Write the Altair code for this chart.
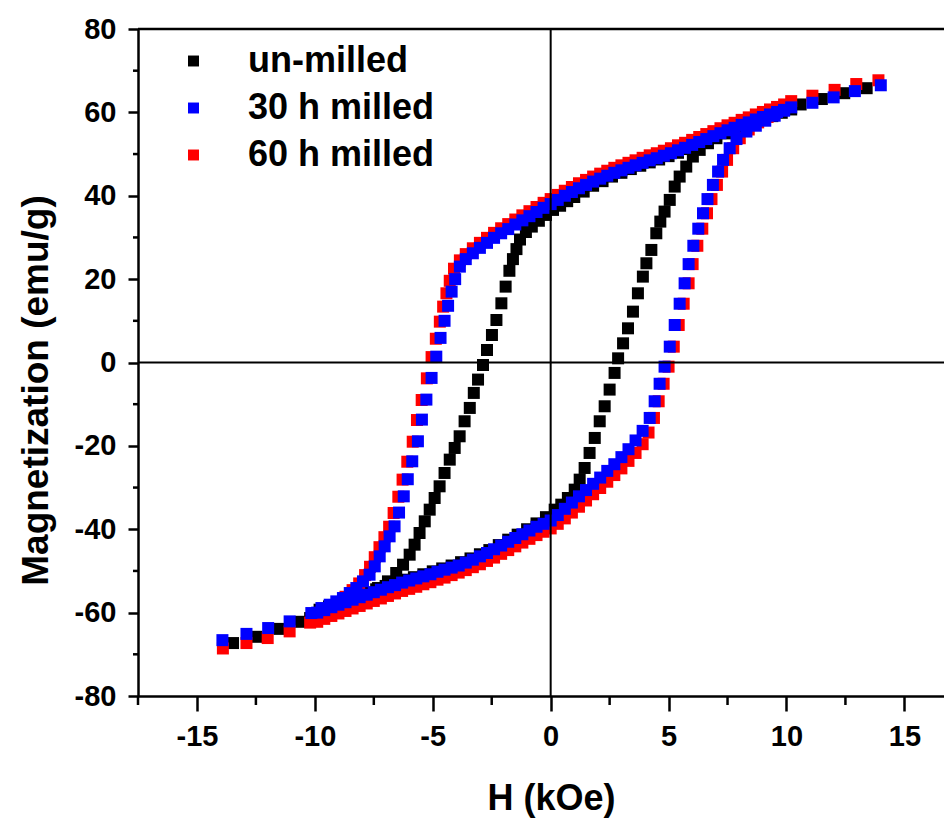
import altair as alt
import pandas as pd

SERIES = ["un-milled", "30 h milled", "60 h milled"]
COLORS = ["#000000", "#0000ff", "#ff0000"]
X_TICKS = [-15, -10, -5, 0, 5, 10, 15]
X_MINOR = [-17.5, -12.5, -7.5, -2.5, 2.5, 7.5, 12.5]
Y_TICKS = [-80, -60, -40, -20, 0, 20, 40, 60, 80]
Y_MINOR = [-70, -50, -30, -10, 10, 30, 50, 70]

# (H kOe, M emu/g)
BLACK_DOWN = [(13.4,65.8),(12.45,64.6),(11.5,63.2),(10.6,61.9),(10.2,60.7),(9.8,59.9),(9.4,59.1),(9.0,58.4),(8.6,57.6),(8.2,56.8),(7.8,55.9),(7.4,55.0),(7.0,54.0),(6.6,53.0),(6.2,52.1),(5.8,51.2),(5.4,50.3),(5.0,49.5),(4.6,48.7),(4.2,48.0),(3.8,47.2),(3.4,46.4),(3.0,45.5),(2.6,44.6),(2.2,43.5),(1.8,42.4),(1.4,41.0),(1.0,39.7),(0.7,38.7),(0.4,37.6),(0.1,36.6),(-0.2,35.4),(-0.5,34.0),(-0.8,32.6),(-1.05,31.3),(-1.3,29.5),(-1.45,27.2),(-1.6,24.8),(-1.75,22.0),(-1.91,18.2),(-2.09,14.2),(-2.3,10.2),(-2.49,6.6),(-2.7,3.0),(-2.87,-0.6),(-3.08,-4.1),(-3.26,-7.3),(-3.43,-10.9),(-3.65,-14.1),(-3.86,-17.7),(-4.07,-20.5),(-4.28,-23.3),(-4.5,-26.5),(-4.71,-29.7),(-4.92,-32.5),(-5.13,-35.3),(-5.34,-38.1),(-5.56,-40.9),(-5.77,-43.7),(-5.98,-46.1),(-6.26,-48.5),(-6.55,-50.5),(-6.9,-52.5),(-7.32,-54.1),(-7.75,-55.3),(-8.2,-56.4),(-8.7,-57.6),(-9.2,-58.8),(-9.7,-60.0),(-10.2,-61.3),(-10.6,-62.2),(-11.5,-63.9),(-12.48,-65.8),(-13.47,-67.3)]
BLACK_UP = [(-9.8,-59.3),(-9.4,-58.5),(-9.0,-57.6),(-8.6,-56.8),(-8.2,-56.0),(-7.8,-55.2),(-7.4,-54.4),(-7.0,-53.6),(-6.6,-52.9),(-6.2,-52.1),(-5.8,-51.5),(-5.4,-50.8),(-5.0,-50.1),(-4.6,-49.4),(-4.2,-48.7),(-3.8,-47.9),(-3.4,-47.0),(-3.0,-46.0),(-2.6,-45.0),(-2.2,-43.8),(-1.8,-42.5),(-1.4,-41.3),(-1.0,-40.0),(-0.6,-38.6),(-0.2,-37.1),(0.17,-35.3),(0.45,-34.1),(0.73,-32.5),(1.02,-30.5),(1.23,-28.1),(1.44,-25.3),(1.65,-21.7),(1.87,-18.1),(2.08,-14.1),(2.29,-10.5),(2.5,-6.5),(2.71,-2.5),(2.86,1.0),(3.07,4.6),(3.28,8.2),(3.49,12.2),(3.7,16.6),(3.91,20.6),(4.06,23.8),(4.27,27.0),(4.48,31.0),(4.65,33.8),(4.83,36.2),(5.05,39.0),(5.26,42.2),(5.47,44.6),(5.75,47.0),(6.03,49.4),(6.32,51.0),(6.67,52.6),(7.03,53.8),(7.45,55.0),(7.88,55.8),(8.4,57.0)]

BLUE_DOWN = [(14.0,66.5),(12.9,65.1),(12.0,63.6),(11.1,62.3),(10.2,61.2),(9.9,60.6),(9.6,60.1),(9.3,59.5),(9.0,58.9),(8.7,58.3),(8.4,57.6),(8.1,57.0),(7.8,56.3),(7.5,55.7),(7.2,55.0),(6.9,54.3),(6.6,53.6),(6.3,52.9),(6.0,52.2),(5.7,51.5),(5.4,50.9),(5.1,50.2),(4.8,49.6),(4.5,49.0),(4.2,48.5),(3.9,47.9),(3.6,47.3),(3.3,46.7),(3.0,46.1),(2.7,45.5),(2.4,44.8),(2.1,44.1),(1.8,43.4),(1.5,42.6),(1.2,41.8),(0.9,40.9),(0.6,40.0),(0.3,39.0),(0.0,38.0),(-0.3,37.1),(-0.6,36.1),(-0.9,35.1),(-1.2,34.1),(-1.5,33.1),(-1.8,32.0),(-2.1,31.0),(-2.4,29.9),(-2.7,28.7),(-3.0,27.5),(-3.3,26.2),(-3.6,24.8),(-3.85,23.0),(-4.05,20.0),(-4.2,17.0),(-4.35,13.6),(-4.5,10.0),(-4.67,5.9),(-4.85,1.4),(-5.05,-3.7),(-5.27,-8.9),(-5.46,-13.7),(-5.63,-18.9),(-5.87,-23.7),(-6.06,-28.0),(-6.23,-32.1),(-6.43,-36.0),(-6.62,-39.3),(-6.83,-41.7),(-7.04,-44.1),(-7.25,-46.5),(-7.46,-48.9),(-7.68,-50.9),(-7.96,-52.5),(-8.24,-54.1),(-8.52,-55.3),(-8.81,-56.5),(-9.09,-57.3),(-9.37,-58.1),(-9.72,-58.9),(-10.15,-60.1),(-11.07,-62.1),(-11.98,-63.7),(-12.9,-65.1),(-13.92,-66.6)]
BLUE_UP = [(-9.9,-60.0),(-9.6,-59.4),(-9.3,-58.7),(-9.0,-58.1),(-8.7,-57.5),(-8.4,-56.9),(-8.1,-56.3),(-7.8,-55.7),(-7.5,-55.1),(-7.2,-54.5),(-6.9,-53.9),(-6.6,-53.4),(-6.3,-52.8),(-6.0,-52.3),(-5.7,-51.8),(-5.4,-51.3),(-5.1,-50.8),(-4.8,-50.2),(-4.5,-49.7),(-4.2,-49.2),(-3.9,-48.7),(-3.6,-48.0),(-3.3,-47.3),(-3.0,-46.5),(-2.7,-45.7),(-2.4,-44.8),(-2.1,-43.9),(-1.8,-43.0),(-1.5,-42.1),(-1.2,-41.2),(-0.9,-40.3),(-0.6,-39.4),(-0.3,-38.7),(0.0,-37.9),(0.3,-36.6),(0.6,-35.1),(0.9,-33.6),(1.2,-32.1),(1.5,-30.6),(1.8,-29.1),(2.1,-27.6),(2.4,-26.0),(2.7,-24.4),(3.0,-22.7),(3.3,-20.8),(3.6,-18.7),(3.9,-16.4),(4.2,-13.3),(4.41,-9.3),(4.62,-5.1),(4.83,-1.0),(5.05,3.8),(5.26,9.0),(5.47,14.1),(5.68,19.0),(5.85,23.6),(6.05,28.0),(6.26,32.1),(6.46,35.8),(6.65,39.2),(6.88,42.6),(7.1,45.8),(7.31,48.6),(7.59,51.4),(7.88,53.6),(8.3,55.4),(8.7,56.8),(9.1,58.0),(9.5,59.2),(9.9,60.4)]

RED_DOWN = [(13.9,67.7),(12.96,66.8),(12.04,65.4),(11.1,64.0),(10.2,62.7),(9.9,61.9),(9.6,61.3),(9.3,60.7),(9.0,60.1),(8.7,59.5),(8.4,58.8),(8.1,58.2),(7.8,57.5),(7.5,56.9),(7.2,56.2),(6.9,55.5),(6.6,54.8),(6.3,54.1),(6.0,53.4),(5.7,52.7),(5.4,52.1),(5.1,51.4),(4.8,50.8),(4.5,50.2),(4.2,49.7),(3.9,49.1),(3.6,48.5),(3.3,47.9),(3.0,47.3),(2.7,46.7),(2.4,46.0),(2.1,45.3),(1.8,44.6),(1.5,43.8),(1.2,43.0),(0.9,42.1),(0.6,41.2),(0.3,40.2),(0.0,39.2),(-0.3,38.3),(-0.6,37.3),(-0.9,36.3),(-1.2,35.3),(-1.5,34.3),(-1.8,33.2),(-2.1,32.2),(-2.4,31.1),(-2.7,29.9),(-3.0,28.7),(-3.3,27.4),(-3.6,26.0),(-3.85,24.5),(-4.1,22.5),(-4.28,19.6),(-4.42,16.6),(-4.56,13.4),(-4.7,9.8),(-4.87,5.7),(-5.05,1.3),(-5.25,-3.8),(-5.47,-9.0),(-5.67,-13.8),(-5.85,-19.0),(-6.08,-23.8),(-6.28,-28.1),(-6.46,-32.2),(-6.66,-36.1),(-6.85,-39.4),(-7.05,-41.9),(-7.26,-44.3),(-7.46,-46.7),(-7.66,-49.0),(-7.87,-51.0),(-8.12,-53.0),(-8.4,-54.6),(-8.7,-56.2),(-9.0,-57.6),(-9.3,-58.8),(-9.6,-60.0),(-9.9,-61.2),(-10.2,-62.4),(-11.07,-64.5),(-12.0,-66.1),(-12.9,-67.3),(-13.9,-68.6)]
RED_UP = [(-9.9,-62.2),(-9.6,-61.5),(-9.3,-60.8),(-9.0,-60.2),(-8.7,-59.6),(-8.4,-59.0),(-8.1,-58.4),(-7.8,-57.8),(-7.5,-57.2),(-7.2,-56.6),(-6.9,-56.0),(-6.6,-55.4),(-6.3,-54.8),(-6.0,-54.3),(-5.7,-53.8),(-5.4,-53.2),(-5.1,-52.7),(-4.8,-52.1),(-4.5,-51.6),(-4.2,-51.0),(-3.9,-50.4),(-3.6,-49.8),(-3.3,-49.1),(-3.0,-48.4),(-2.7,-47.6),(-2.4,-46.8),(-2.1,-45.9),(-1.8,-45.0),(-1.5,-44.1),(-1.2,-43.2),(-0.9,-42.3),(-0.6,-41.4),(-0.3,-40.6),(0.0,-39.8),(0.3,-38.7),(0.6,-37.4),(0.9,-36.0),(1.2,-34.6),(1.5,-33.1),(1.8,-31.6),(2.1,-30.1),(2.4,-28.6),(2.7,-27.0),(3.0,-25.4),(3.3,-23.6),(3.6,-21.7),(3.9,-19.6),(4.15,-16.8),(4.38,-13.3),(4.58,-9.3),(4.79,-5.1),(5.0,-1.0),(5.22,3.8),(5.43,9.0),(5.64,14.1),(5.85,19.0),(6.02,23.6),(6.22,28.0),(6.43,32.1),(6.63,35.8),(6.82,39.2),(7.05,42.6),(7.27,45.8),(7.48,48.6),(7.74,51.4),(8.02,53.8),(8.4,55.9),(8.8,57.6),(9.2,58.9),(9.6,60.3),(10.0,61.5)]

rows = []
for name, pts in [("un-milled", BLACK_DOWN + BLACK_UP),
                  ("60 h milled", RED_DOWN + RED_UP),
                  ("30 h milled", BLUE_DOWN + BLUE_UP)]:
    for h, m in pts:
        rows.append({"H": h, "M": m, "sample": name})
df = pd.DataFrame(rows)
df["order"] = range(len(df))

FONT = "Liberation Sans"
xs = alt.Scale(domain=[-17.5, 16.68], nice=False, zero=False)
ys = alt.Scale(domain=[-80, 80], nice=False, zero=False)

x_axis = alt.Axis(values=X_TICKS, title="H (kOe)", grid=False, tickSize=15, tickWidth=2.5,
                  tickColor="black", domainColor="black", domainWidth=2.5,
                  labelFont=FONT, labelFontSize=29, labelFontWeight="bold", labelColor="black",
                  labelPadding=11, labelExpr="'' + datum.value", labelFlush=False,
                  titleFont=FONT, titleFontSize=36, titleFontWeight="bold", titleColor="black",
                  titleX=413, titleY=113, titleBaseline="alphabetic", titleAlign="center")
y_axis = alt.Axis(values=Y_TICKS, title="Magnetization (emu/g)", grid=False, tickSize=10, tickWidth=2.5,
                  tickColor="black", domainColor="black", domainWidth=2.5,
                  labelFont=FONT, labelFontSize=29, labelFontWeight="bold", labelColor="black",
                  labelPadding=12, labelExpr="'' + datum.value", labelFlush=False,
                  titleFont=FONT, titleFontSize=37, titleFontWeight="bold", titleColor="black",
                  titleX=-91, titleY=361, titleBaseline="alphabetic", titleAlign="center", titleAngle=270)

points = alt.Chart(df).mark_square(size=144, opacity=1).encode(
    x=alt.X("H:Q", scale=xs, axis=x_axis),
    y=alt.Y("M:Q", scale=ys, axis=y_axis),
    color=alt.Color("sample:N", scale=alt.Scale(domain=SERIES, range=COLORS),
                    legend=alt.Legend(title=None, orient="none", legendX=37.5, legendY=14,
                                      symbolType="square", symbolSize=120, symbolStrokeWidth=0,
                                      labelFont=FONT, labelFontSize=36, labelFontWeight="bold",
                                      labelColor="black", labelOffset=36.5, labelLimit=400,
                                      rowPadding=11)),
    order=alt.Order("order:Q"),
)

vzero = alt.Chart(pd.DataFrame({"H": [0]})).mark_rule(color="black", strokeWidth=2).encode(
    x=alt.X("H:Q", scale=xs, axis=x_axis))
hzero = alt.Chart(pd.DataFrame({"M": [0]})).mark_rule(color="black", strokeWidth=2).encode(
    y=alt.Y("M:Q", scale=ys, axis=y_axis))
top = alt.Chart(pd.DataFrame({"M": [80]})).mark_rule(color="black", strokeWidth=2.5).encode(
    y=alt.Y("M:Q", scale=ys, axis=y_axis))
xminor = alt.Chart(pd.DataFrame({"H": X_MINOR})).mark_rule(color="black", strokeWidth=2.5).encode(
    x=alt.X("H:Q", scale=xs, axis=x_axis), y=alt.value(667), y2=alt.value(676))
yminor = alt.Chart(pd.DataFrame({"M": Y_MINOR})).mark_rule(color="black", strokeWidth=2.5).encode(
    y=alt.Y("M:Q", scale=ys, axis=y_axis), x=alt.value(0), x2=alt.value(-5))

chart = alt.layer(points, vzero, hzero, top, xminor, yminor).properties(
    width=806, height=667,
    autosize=alt.AutoSizeParams(type="none"),
    padding={"left": 130, "top": 21, "right": 0, "bottom": 122},
).configure_view(stroke=None)

chart.save("out.html", embed_options={"renderer": "svg", "actions": False})
